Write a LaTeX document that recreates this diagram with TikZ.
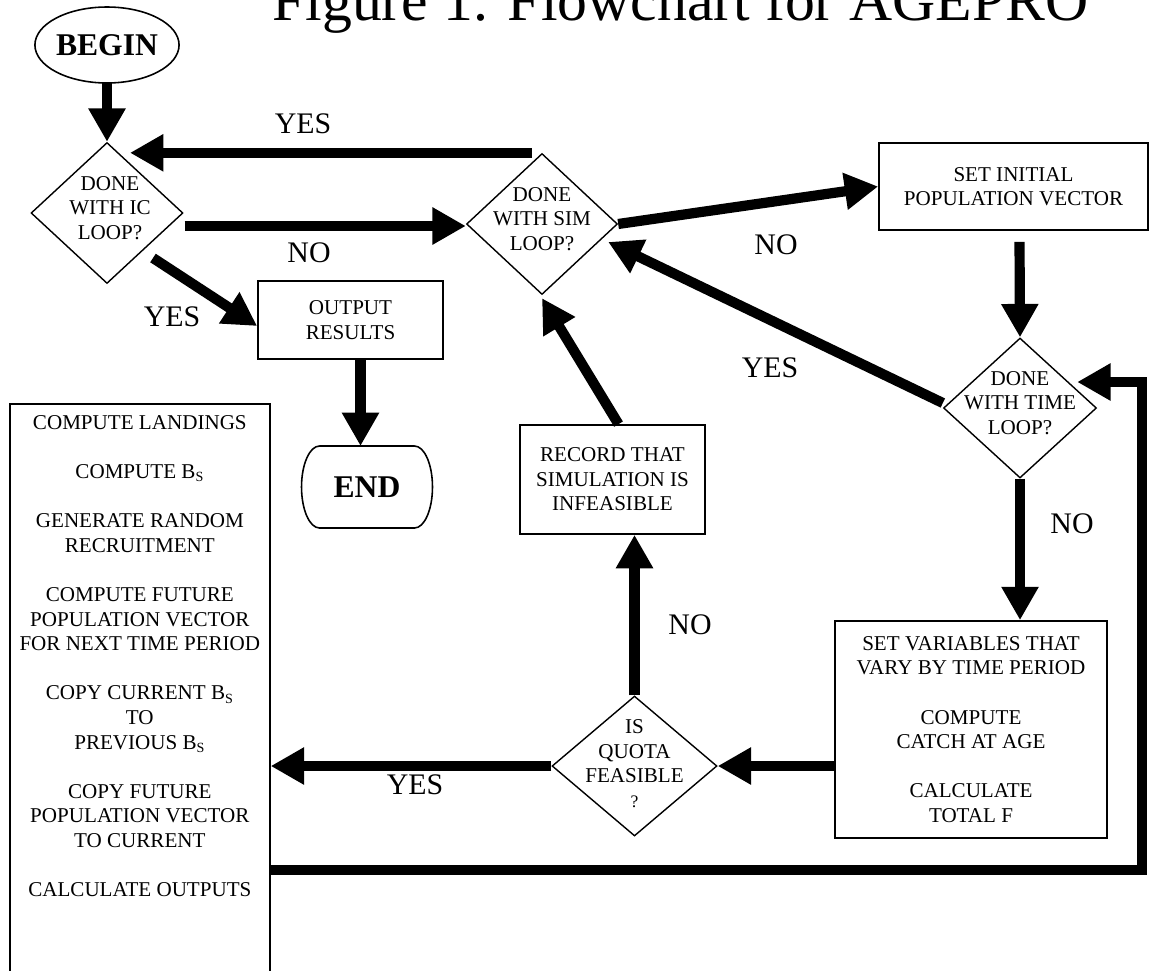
\documentclass[tikz,border=0pt]{standalone}
\usepackage{fontspec}
\setmainfont{Liberation Serif}
\usetikzlibrary{arrows.meta,calc,positioning,shapes.geometric}

\begin{document}
\begin{tikzpicture}[x=0.02cm, y=-0.02cm, >={Triangle[width=20pt,length=19pt]},
  flow/.style={->, line width=5.8pt},
  box/.style={draw, line width=1pt, rectangle, inner sep=0pt, align=center, font=\fontsize{12}{14}\selectfont},
  decision/.style={draw, line width=0.8pt, diamond, inner sep=0pt},
  dtext/.style={align=center, inner sep=0pt, font=\fontsize{12}{14}\selectfont},
  terminal/.style={line width=0.9pt, inner sep=0pt, outer sep=0pt, font=\fontsize{18}{20}\selectfont\bfseries},
  lbl/.style={inner sep=0pt, font=\fontsize{17}{20}\selectfont}]
\useasboundingbox (0,0) rectangle (1151,970);
\node[anchor=base west, inner sep=0pt, font=\fontsize{34}{36}\selectfont] (title) at (272,20) {Figure 1. Flowchart for AGEPRO};
\node[terminal, draw, ellipse, minimum width=2.62cm, minimum height=1.52cm] (start) at (107,45) {BEGIN};
\node[decision, minimum width=3.04cm, minimum height=2.82cm,
  label={[dtext,xshift=0.06cm,yshift=0.1cm]center:{DONE\\WITH IC\\LOOP?}}] (icloop) at (107,213) {};
\node[decision, minimum width=3.02cm, minimum height=2.82cm,
  label={[dtext,yshift=0.1cm]center:{DONE\\WITH SIM\\LOOP?}}] (simloop) at (542,224) {};
\node[box, minimum width=3.7cm, minimum height=1.56cm] (output) at (350.5,320) {OUTPUT\\RESULTS};
\node[terminal, minimum width=2.62cm, minimum height=1.64cm] (finish) at (367,487) {END};
\draw[line width=0.9pt] ($(finish.north west)+(18,0)$) -- ($(finish.north east)+(-18,0)$)
  arc[start angle=90, end angle=-90, x radius=0.36cm, y radius=0.82cm]
  -- ($(finish.south west)+(18,0)$)
  arc[start angle=270, end angle=90, x radius=0.36cm, y radius=0.82cm] -- cycle;
\node[box, minimum width=5.38cm, minimum height=1.74cm] (init) at (1013.5,186.5) {SET INITIAL\\POPULATION VECTOR};
\node[decision, minimum width=3.06cm, minimum height=2.8cm,
  label={[dtext,yshift=0.1cm]center:{DONE\\WITH TIME\\LOOP?}}] (timeloop) at (1020,408) {};
\node[box, minimum width=5.44cm, minimum height=4.34cm] (vars) at (971,729.5)
  {SET VARIABLES THAT\\VARY BY TIME PERIOD\\[14pt]COMPUTE\\CATCH AT AGE\\[14pt]CALCULATE\\TOTAL F};
\node[decision, minimum width=3.3cm, minimum height=2.8cm,
  label={[dtext,yshift=0.05cm]center:{IS\\QUOTA\\FEASIBLE\\{\fontsize{10}{14}\selectfont ?}}}] (quota) at (634.5,766) {};
\node[box, minimum width=3.7cm, minimum height=2.18cm] (record) at (612.5,479.5) {RECORD THAT\\SIMULATION IS\\INFEASIBLE};
\node[box, anchor=north west, minimum width=5.2cm, minimum height=11.94cm] (steps) at (9,403) {};
\node[dtext, anchor=north] (stepsT) at ($(steps.north)+(0,12)$)
  {COMPUTE LANDINGS\\[14pt]
   COMPUTE B\textsubscript{S}\\[14pt]
   GENERATE RANDOM\\RECRUITMENT\\[14pt]
   COMPUTE FUTURE\\POPULATION VECTOR\\FOR NEXT TIME PERIOD\\[14pt]
   COPY CURRENT B\textsubscript{S}\\TO\\PREVIOUS B\textsubscript{S}\\[14pt]
   COPY FUTURE\\POPULATION VECTOR\\TO CURRENT\\[14pt]
   CALCULATE OUTPUTS};
\coordinate (loopc) at (1142,870);
\coordinate (outc) at ($(output.south)+(10,0)$);
\draw[flow] (start) -- (icloop);
\draw[flow] ($(simloop.north)+(-10,0)$) -- ($(icloop.north)+(23,11)$);
\draw[flow] ($(icloop.east)+(1,13)$) -- ($(simloop.west)+(0,2)$);
\draw[flow] ($(icloop.center)+(46,45)$) -- ($(output.west)+(0,6)$);
\draw[flow] (outc) -- (outc |- finish.north);
\draw[flow] (simloop.east) -- (init.west);
\draw[flow] ($(init.south)+(6,11)$) -- (timeloop.north);
\draw[flow] ($(timeloop.west)+(0,-5)$) -- ($(simloop.east)+(-10,18)$);
\draw[flow] (timeloop.south) -- (timeloop.south |- vars.north);
\draw[flow] (vars.west |- quota.east) -- (quota.east);
\draw[flow] (quota.north) -- (quota.north |- record.south);
\draw[flow] ($(record.north)+(6,0)$) -- ($(simloop.south)+(0,3)$);
\draw[flow] (quota.west) -- (quota.west -| steps.east);
\draw[flow] (loopc -| steps.east) -- (loopc) |- ($(timeloop.east)+(-20,-26)$);
\node[lbl] (yesA) at (303,124) {YES};
\node[lbl] (noA) at (309,253) {NO};
\node[lbl] (yesB) at (172,317) {YES};
\node[lbl] (noB) at (776,245) {NO};
\node[lbl] (yesC) at (770,368) {YES};
\node[lbl] (noC) at (1072,524) {NO};
\node[lbl] (noD) at (690,625) {NO};
\node[lbl] (yesD) at (415,785) {YES};
\end{tikzpicture}
\end{document}
